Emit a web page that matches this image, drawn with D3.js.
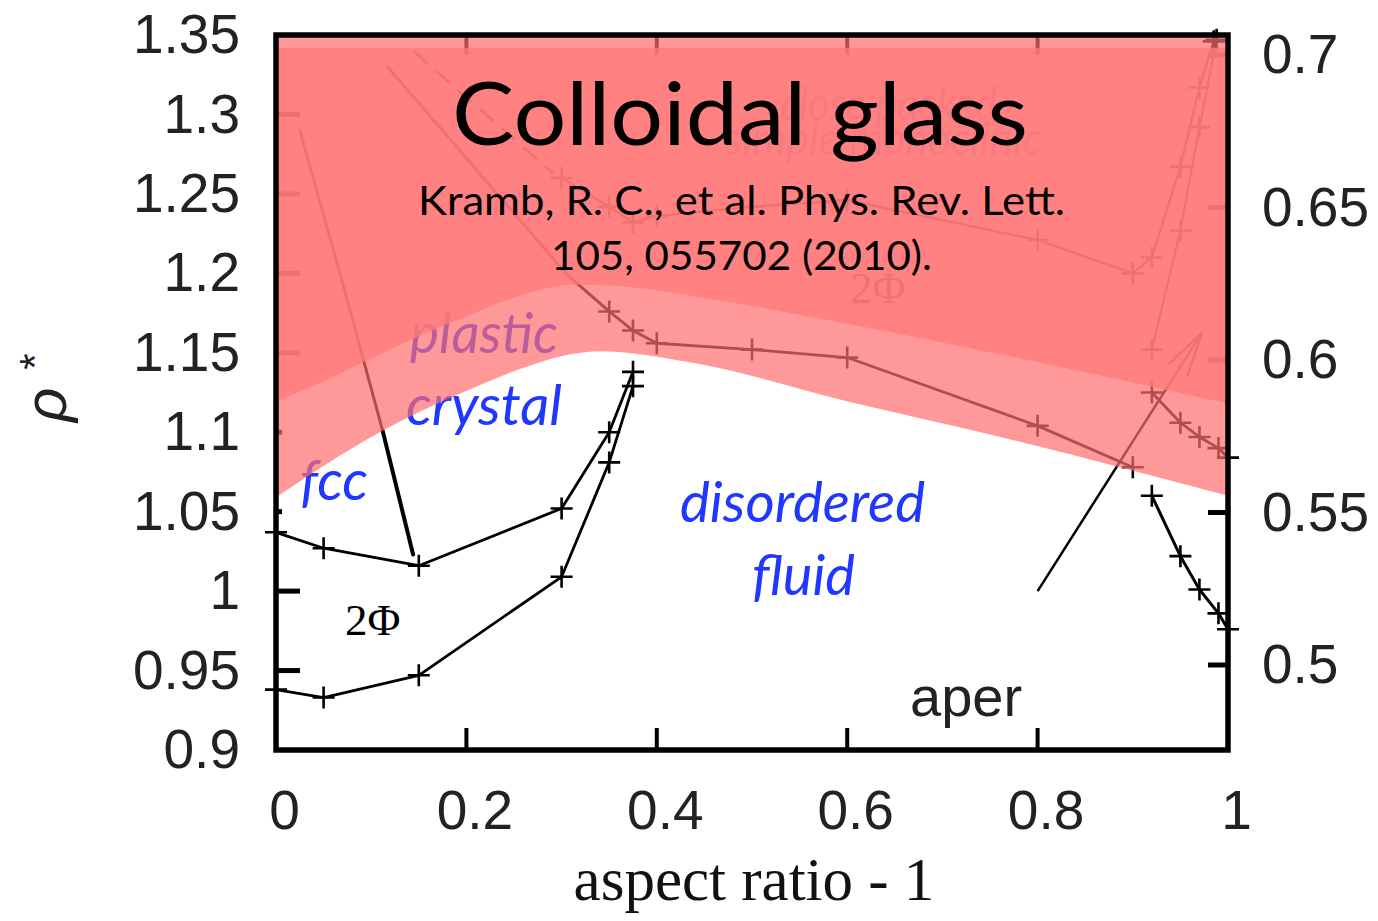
<!DOCTYPE html>
<html>
<head>
<meta charset="utf-8">
<script src="https://cdn.jsdelivr.net/npm/d3@7"></script>
<style>
  html, body { margin: 0; padding: 0; background: #fff; }
  svg { display: block; }
</style>
</head>
<body>
<svg id="chart" width="1378" height="921"></svg>
<script>
// ---- axis ticks ----
const xTicks = [0, 0.2, 0.4, 0.6, 0.8, 1];
const xTickLabels = ["0", "0.2", "0.4", "0.6", "0.8", "1"];
const rhoTicks = [0.9, 0.95, 1, 1.05, 1.1, 1.15, 1.2, 1.25, 1.3, 1.35];
const rhoTickLabels = ["0.9", "0.95", "1", "1.05", "1.1", "1.15", "1.2", "1.25", "1.3", "1.35"];
const phiTicks = [0.5, 0.55, 0.6, 0.65, 0.7];
const phiTickLabels = ["0.5", "0.55", "0.6", "0.65", "0.7"];

// ---- phase boundaries (x = aspect ratio - 1, y = reduced density rho*) ----
const fccBoundaryX = [0, 0.05, 0.15, 0.30, 0.35, 0.375];
const fccBoundaryY = [1.037, 1.027, 1.016, 1.052, 1.100, 1.138];
const fluidBoundaryX = [0, 0.05, 0.15, 0.30, 0.35, 0.375];
const fluidBoundaryY = [0.938, 0.933, 0.947, 1.009, 1.081, 1.129];
const tieUpperX = [0.025, 0.069, 0.112];
const tieUpperY = [1.290, 1.196, 1.101];
const tieLowerX = [0.112, 0.144];
const tieLowerY = [1.101, 1.023];
const aperBoundaryX = [0.92, 0.95, 0.97, 0.99, 1.0];
const aperBoundaryY = [1.060, 1.022, 1.001, 0.986, 0.976];
const arrowX = [0.80, 0.973];
const arrowY = [1.000, 1.163];
const plasticLeadX = [0.117, 0.306, 0.35];
const plasticLeadY = [1.330, 1.199, 1.176];
const plasticBoundaryX = [0.35, 0.375, 0.4, 0.5, 0.6, 0.8, 0.9];
const plasticBoundaryY = [1.176, 1.164, 1.156, 1.152, 1.147, 1.104, 1.078];
const plasticRightX = [0.92, 0.95, 0.97, 0.99, 1.0];
const plasticRightY = [1.125, 1.106, 1.097, 1.090, 1.084];
const cpDashX = [0.146, 0.291];
const cpDashY = [1.339, 1.263];
const cpBoundaryX = [0.30, 0.35, 0.375, 0.4, 0.5, 0.6, 0.8, 0.9];
const cpBoundaryY = [1.260, 1.242, 1.232, 1.236, 1.242, 1.246, 1.221, 1.200];
const cpRightAX = [0.9, 0.92, 0.95, 0.97, 0.985];
const cpRightAY = [1.200, 1.210, 1.267, 1.317, 1.346];
const cpRightBX = [0.92, 0.95, 0.97, 0.988];
const cpRightBY = [1.152, 1.227, 1.292, 1.347];

// ---- shaded regions: colloidal glass and plastic crystal ----
const glassTopRho = 1.342;
const glassEdgeX = [0, 0.057, 0.130, 0.204, 0.267, 0.314, 0.361, 0.445, 0.603, 0.761, 1.0];
const glassEdgeY = [1.119, 1.134, 1.155, 1.174, 1.188, 1.193, 1.192, 1.185, 1.168, 1.149, 1.118];
const plasticEdgeX = [0, 0.109, 0.204, 0.267, 0.309, 0.340, 0.435, 0.603, 0.761, 1.0];
const plasticEdgeY = [1.059, 1.100, 1.127, 1.142, 1.149, 1.151, 1.144, 1.119, 1.097, 1.060];

const zip = (xs, ys) => xs.map((v, i) => [v, ys[i]]);

const svg = d3.select("#chart");
const M = { left: 276, right: 1228, top: 35, bottom: 750 };

const x = d3.scaleLinear().domain([0, 1]).range([M.left, M.right]);
const y = d3.scaleLinear().domain([0.9, 1.35]).range([M.bottom, M.top]);
const yR = d3.scaleLinear().domain([0.47213, 0.70656]).range([M.bottom, M.top]);

const SANS = "'Liberation Sans', Arial, Helvetica, sans-serif";
const SERIF = "'Liberation Serif', 'Times New Roman', serif";
const HUMAN = "Lato, 'Open Sans', sans-serif";
const BLUE = "#1f37ff";
const PALE_BLUE = "#8a9cff";

const base = svg.append("g");   // everything that sits beneath the shading

// ---- inward tick marks ----
const shortRho = new Set([1.05, 1.1]);
base.selectAll(".tl").data(rhoTicks.filter(d => d > 0.9 && d < 1.35)).join("line")
  .attr("x1", M.left).attr("x2", d => M.left + (shortRho.has(d) ? 6 : 24))
  .attr("y1", d => y(d)).attr("y2", d => y(d))
  .attr("stroke", "#000").attr("stroke-width", 5);
base.selectAll(".tr").data(phiTicks).join("line")
  .attr("x1", M.right - 20).attr("x2", M.right)
  .attr("y1", d => yR(d)).attr("y2", d => yR(d))
  .attr("stroke", "#000").attr("stroke-width", 5);
const innerX = xTicks.filter(d => d > 0 && d < 1);
base.selectAll(".tb").data(innerX).join("line")
  .attr("x1", d => x(d)).attr("x2", d => x(d))
  .attr("y1", M.bottom - 22).attr("y2", M.bottom)
  .attr("stroke", "#000").attr("stroke-width", 4);
base.selectAll(".tt").data(innerX).join("line")
  .attr("x1", d => x(d)).attr("x2", d => x(d))
  .attr("y1", M.top).attr("y2", M.top + 20)
  .attr("stroke", "#000").attr("stroke-width", 4);

// ---- boundary curves ----
const line = d3.line().x(d => x(d[0])).y(d => y(d[1]));
const series = [
  { pts: zip(fccBoundaryX, fccBoundaryY), w: 2.8, marks: true },
  { pts: zip(fluidBoundaryX, fluidBoundaryY), w: 2.8, marks: true },
  { pts: zip(tieUpperX, tieUpperY), w: 3, marks: false },
  { pts: zip(tieLowerX, tieLowerY), w: 4, marks: false },
  { pts: zip(aperBoundaryX, aperBoundaryY), w: 3, marks: true },
  { pts: zip(plasticLeadX, plasticLeadY), w: 3, marks: false },
  { pts: zip(plasticBoundaryX, plasticBoundaryY), w: 2.8, marks: true },
  { pts: zip(plasticRightX, plasticRightY), w: 2.8, marks: true },
  { pts: zip(cpDashX, cpDashY), w: 2.6, marks: false, dash: "16,13" },
  { pts: zip(cpBoundaryX, cpBoundaryY), w: 2.4, marks: true },
  { pts: zip(cpRightAX, cpRightAY), w: 2.2, marks: true },
  { pts: zip(cpRightBX, cpRightBY), w: 2.2, marks: true }
];
series.forEach(s => {
  base.append("path").attr("d", line(s.pts))
    .attr("fill", "none").attr("stroke", "#000")
    .attr("stroke-width", s.w).attr("stroke-dasharray", s.dash || null)
    .attr("stroke-linejoin", "round").attr("stroke-linecap", "round");
  if (s.marks) {
    const h = 11;
    base.append("g").selectAll("path").data(s.pts).join("path")
      .attr("d", d => `M${x(d[0]) - h},${y(d[1])}h${2 * h}M${x(d[0])},${y(d[1]) - h}v${2 * h}`)
      .attr("stroke", "#000").attr("stroke-width", 2.6).attr("fill", "none");
  }
});

// arrow toward the glass
const defs = svg.append("defs");
defs.append("marker").attr("id", "arrowhead")
  .attr("markerUnits", "userSpaceOnUse").attr("markerWidth", 60).attr("markerHeight", 40)
  .attr("viewBox", "-50 -20 60 40").attr("refX", 0).attr("refY", 0).attr("orient", "auto")
  .append("path").attr("d", "M-45,-11L0,0L-45,11")
  .attr("fill", "none").attr("stroke", "#000").attr("stroke-width", 2.5);
base.append("path").attr("d", line(zip(arrowX, arrowY)))
  .attr("fill", "none").attr("stroke", "#000").attr("stroke-width", 2.5)
  .attr("marker-end", "url(#arrowhead)");

// ---- region labels beneath the shading ----
function label(g, txt, x0, yb, opts) {
  return g.append("text").attr("x", x0).attr("y", yb).text(txt)
    .attr("font-family", opts.family).attr("font-size", opts.size)
    .attr("font-style", opts.italic ? "italic" : null)
    .attr("fill", opts.fill)
    .attr("textLength", opts.len || null)
    .attr("lengthAdjust", opts.len ? "spacingAndGlyphs" : null);
}
label(base, "close packed", 780, 120, { family: HUMAN, size: 46, italic: true, fill: PALE_BLUE, len: 217 });
label(base, "simple monoclinic", 725, 155, { family: HUMAN, size: 46, italic: true, fill: PALE_BLUE, len: 317 });
label(base, "plastic", 410, 353, { family: HUMAN, size: 56, italic: true, fill: BLUE, len: 148 });
label(base, "crystal", 406, 425, { family: HUMAN, size: 56, italic: true, fill: BLUE, len: 156 });
label(base, "fcc", 300, 500, { family: HUMAN, size: 56, italic: true, fill: BLUE, len: 68 });
label(base, "disordered", 680, 522, { family: HUMAN, size: 56, italic: true, fill: BLUE, len: 245 });
label(base, "fluid", 752, 595, { family: HUMAN, size: 56, italic: true, fill: BLUE, len: 103 });
label(base, "2Φ", 345, 635, { family: SERIF, size: 45, fill: "#000" });
label(base, "2Φ", 850, 303, { family: SERIF, size: 45, fill: "#000" });
label(base, "aper", 910, 716, { family: SANS, size: 56, fill: "#222" });

// ---- shading ----
const plasticArea = d3.area().curve(d3.curveMonotoneX)
  .x(d => x(d[0])).y0(y(1.35)).y1(d => y(d[1]));
const glassArea = d3.area().curve(d3.curveMonotoneX)
  .x(d => x(d[0])).y0(y(glassTopRho)).y1(d => y(d[1]));
svg.append("path").attr("d", plasticArea(zip(plasticEdgeX, plasticEdgeY)))
  .attr("fill", "rgb(255,109,109)").attr("fill-opacity", 0.7);
svg.append("path").attr("d", glassArea(zip(glassEdgeX, glassEdgeY)))
  .attr("fill", "rgb(255,122,122)").attr("fill-opacity", 0.8);

// ---- frame ----
svg.append("rect").attr("x", M.left).attr("y", M.top)
  .attr("width", M.right - M.left).attr("height", M.bottom - M.top)
  .attr("fill", "none").attr("stroke", "#000").attr("stroke-width", 5.5);

// ---- headline and citation ----
label(svg, "Colloidal glass", 452, 145, { family: HUMAN, size: 88, fill: "#000", len: 576 });
label(svg, "Kramb, R. C., et al. Phys. Rev. Lett.", 418, 215, { family: HUMAN, size: 40, fill: "#000", len: 647 });
label(svg, "105, 055702 (2010).", 551, 270, { family: HUMAN, size: 40, fill: "#000", len: 381 });

// ---- axis labels ----
function styleAxis(g) {
  g.select(".domain").remove();
  g.attr("font-family", SANS).attr("font-size", 55);
  g.selectAll("text").attr("fill", "#222");
}
svg.append("g").attr("transform", `translate(${M.left},0)`)
  .call(d3.axisLeft(y).tickValues(rhoTicks).tickFormat((d, i) => rhoTickLabels[i]).tickSize(0).tickPadding(36))
  .call(styleAxis);
svg.append("g").attr("transform", `translate(${M.right},0)`)
  .call(d3.axisRight(yR).tickValues(phiTicks).tickFormat((d, i) => phiTickLabels[i]).tickSize(0).tickPadding(34))
  .call(styleAxis);
svg.append("g").attr("transform", `translate(0,${M.bottom})`)
  .call(d3.axisBottom(x).tickValues(xTicks).tickFormat((d, i) => xTickLabels[i]).tickSize(0).tickPadding(40))
  .call(styleAxis)
  .selectAll("text").attr("dx", 8);

svg.append("text").attr("x", (M.left + M.right) / 2 + 2).attr("y", 900)
  .attr("text-anchor", "middle").attr("font-family", SERIF).attr("font-size", 61)
  .attr("fill", "#111").text("aspect ratio - 1");

const yt = svg.append("text").attr("transform", "translate(66,422) rotate(-90)")
  .attr("font-family", SANS).attr("font-size", 60).attr("fill", "#222");
yt.append("tspan").attr("font-style", "italic").text("ρ");
yt.append("tspan").attr("baseline-shift", "40%").attr("dx", 18).attr("font-size", 42).text("*");
</script>
</body>
</html>
